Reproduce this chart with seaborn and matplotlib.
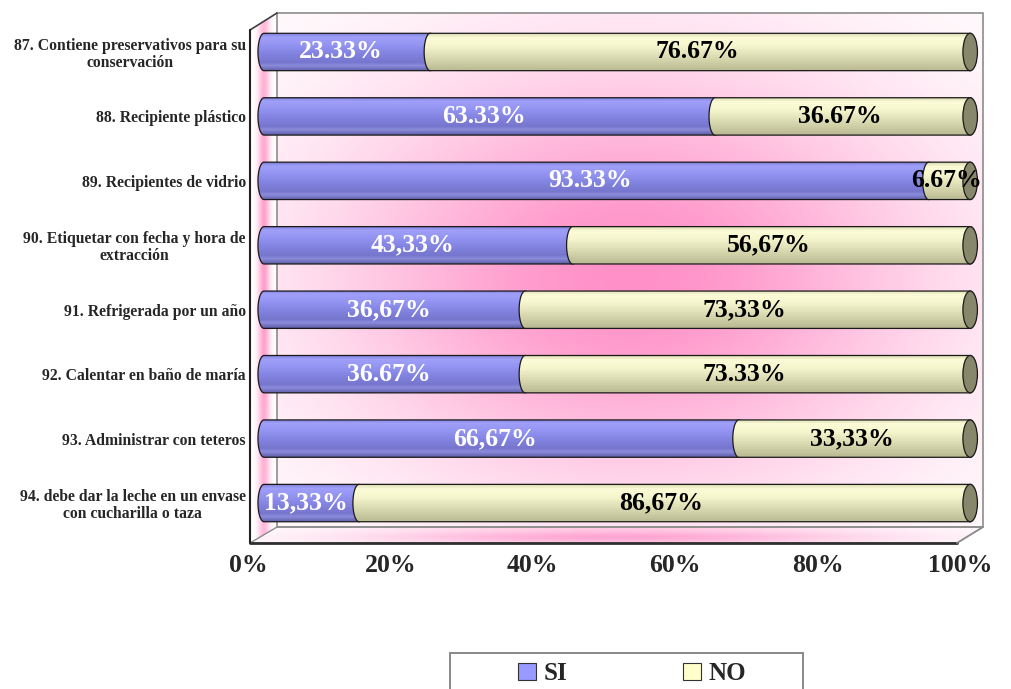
import numpy as np
import pandas as pd
import matplotlib
matplotlib.use("Agg")
import matplotlib.pyplot as plt
import seaborn as sns
from matplotlib import font_manager
from matplotlib import patheffects
from matplotlib.path import Path
from matplotlib.patches import PathPatch, Ellipse, Polygon, Rectangle, Patch
from matplotlib.transforms import ScaledTranslation

# ---- data ----
items = [
    "87. Contiene preservativos para su\nconservación",
    "88. Recipiente plástico",
    "89. Recipientes de vidrio",
    "90. Etiquetar con fecha y hora de\nextracción",
    "91. Refrigerada por un año",
    "92. Calentar en baño de maría",
    "93. Administrar con teteros",
    "94. debe dar la leche en un envase\ncon cucharilla o taza",
]
si_values = [23.33, 63.33, 93.33, 43.33, 36.67, 36.67, 66.67, 13.33]
no_values = [76.67, 36.67, 6.67, 56.67, 63.33, 63.33, 33.33, 86.67]
si_labels = ["23.33%", "63.33%", "93.33%", "43,33%", "36,67%", "36.67%", "66,67%", "13,33%"]
no_labels = ["76.67%", "36.67%", "6.67%", "56,67%", "73,33%", "73.33%", "33,33%", "86,67%"]
x_ticks = [0, 20, 40, 60, 80, 100]
x_ticklabels = ["0%", "20%", "40%", "60%", "80%", "100%"]

df = pd.DataFrame({"item": items, "SI": si_values, "NO": no_values})
df["total"] = df["SI"] + df["NO"]

sns.set_style("white")
plt.rcParams["font.family"] = ["Liberation Serif", "DejaVu Serif"]
plt.rcParams["font.weight"] = "bold"

# use a thin outline to thicken strokes if no bold serif face is available
bold_file = font_manager.findfont(
    font_manager.FontProperties(family="Liberation Serif", weight="bold"))
has_bold = "bold" in bold_file.lower()


def heavy(color, w=1.3):
    if has_bold:
        return []
    return [patheffects.withStroke(linewidth=w, foreground=color)]


W, H = 1011, 689
fig = plt.figure(figsize=(W / 100, H / 100), dpi=100)

# ---- background layer in pixel coordinates: 3D box walls ----
bg = fig.add_axes([0, 0, 1, 1], zorder=0)
bg.set_xlim(0, W)
bg.set_ylim(H, 0)
bg.axis("off")

white = np.array([1.0, 1.0, 1.0])


def blend(t, pink):
    pink = np.array(pink) / 255.0
    return white[None, None, :] * (1 - t[..., None]) + pink[None, None, :] * t[..., None]


# back wall
bx0, bx1, by0, by1 = 277, 983, 13, 527
X, Y = np.meshgrid(np.arange(bx0, bx1 + 1), np.arange(by0, by1 + 1))
t = np.exp(-((X - 630) / 300.0) ** 2 - ((Y - 275) / 210.0) ** 2)
back_img = blend(t, (255, 145, 200))
back_poly = Polygon([(bx0, by0), (bx1, by0), (bx1, by1), (bx0, by1)], closed=True,
                    facecolor="none", edgecolor="#8c8c8c", lw=1.2, zorder=2)
bg.add_patch(back_poly)
im = bg.imshow(back_img, extent=(bx0, bx1, by1, by0), origin="upper", zorder=1,
               interpolation="bilinear")
im.set_clip_path(back_poly)

# left wall
X, Y = np.meshgrid(np.arange(250, 278), np.arange(13, 544))
t = np.exp(-((X - 264) / 6.0) ** 2) * (0.55 + 0.45 * np.exp(-((Y - 275) / 260.0) ** 2))
left_img = blend(t, (255, 160, 205))
left_poly = Polygon([(250, 30), (277, 13), (277, 527), (250, 543)], closed=True,
                    facecolor="none", edgecolor="none", zorder=2)
bg.add_patch(left_poly)
im = bg.imshow(left_img, extent=(250, 277, 543, 13), origin="upper", zorder=1,
               interpolation="bilinear")
im.set_clip_path(left_poly)

# floor
X, Y = np.meshgrid(np.arange(250, 984), np.arange(527, 544))
t = np.exp(-((X - 620) / 260.0) ** 2) * (0.6 + 0.4 * np.exp(-((Y - 537) / 5.0) ** 2))
floor_img = blend(t, (255, 165, 210))
floor_poly = Polygon([(250, 543), (277, 527), (983, 527), (957, 543)], closed=True,
                     facecolor="none", edgecolor="#8c8c8c", lw=1.0, zorder=2)
bg.add_patch(floor_poly)
im = bg.imshow(floor_img, extent=(250, 983, 543, 527), origin="upper", zorder=1,
               interpolation="bilinear")
im.set_clip_path(floor_poly)

# front edges of the box
bg.plot([250, 277], [30, 13], color="#404040", lw=1.2, zorder=3)
bg.plot([250, 250], [30, 543], color="#202020", lw=1.5, zorder=3)
bg.plot([250, 957], [543, 543], color="#303030", lw=2.0, zorder=3)
bg.plot([957, 983], [543, 527], color="#8c8c8c", lw=1.2, zorder=3)
bg.set_aspect("auto")
bg.set_xlim(0, W)
bg.set_ylim(H, 0)

# legend frame
bg.add_patch(Rectangle((450, 653), 353, 60, facecolor="white", edgecolor="#808080",
                       lw=1.3, zorder=3))

# ---- data axes ----
ax_left, ax_right, ax_top, ax_bottom = 250, 983, 13, 543
ax = fig.add_axes([ax_left / W, 1 - ax_bottom / H, (ax_right - ax_left) / W,
                   (ax_bottom - ax_top) / H], zorder=1)
ax.patch.set_alpha(0)

bar_h = 0.58
sns.barplot(data=df, x="total", y="item", orient="h", color="#ffffcc",
            width=bar_h, ax=ax)
sns.barplot(data=df, x="SI", y="item", orient="h", color="#9999ff",
            width=bar_h, ax=ax)

xlim = (-1.12, 101.8)
ylim = (7.62, -0.605)

a = 0.85  # horizontal semi-axis of the cylinder ends (data units)


def stops_to_gradient(stops, n=60):
    pos = np.array([s[0] for s in stops])
    cols = np.array([s[1] for s in stops]) / 255.0
    f = np.linspace(0, 1, n)
    g = np.stack([np.interp(f, pos, cols[:, k]) for k in range(3)], axis=1)
    # fine horizontal banding
    band = 1 + 0.025 * np.sin(np.arange(n) * 2.1)
    g = np.clip(g * band[:, None], 0, 1)
    return g[:, None, :]


si_grad = stops_to_gradient([(0.0, (125, 125, 215)), (0.1, (160, 160, 250)),
                             (0.3, (148, 148, 242)), (0.55, (130, 130, 225)),
                             (0.78, (118, 118, 205)), (0.86, (140, 140, 220)),
                             (1.0, (95, 95, 170))])
no_grad = stops_to_gradient([(0.0, (215, 215, 175)), (0.12, (252, 252, 215)),
                             (0.35, (245, 245, 205)), (0.6, (222, 222, 182)),
                             (0.85, (200, 200, 160)), (1.0, (185, 185, 145))])


def cylinder_path(x0, xc, yc, h):
    """Left end bulges out from x0, right end is an ellipse centred at xc."""
    th_l = np.linspace(np.pi / 2, 3 * np.pi / 2, 40)
    th_r = np.linspace(-np.pi / 2, np.pi / 2, 40)
    left = np.column_stack([x0 + a + a * np.cos(th_l), yc - h / 2 * np.sin(th_l)])
    right = np.column_stack([xc + a * np.cos(th_r), yc - h / 2 * np.sin(th_r)])
    verts = np.vstack([left, right, left[:1]])
    codes = [Path.MOVETO] + [Path.LINETO] * (len(verts) - 2) + [Path.CLOSEPOLY]
    return Path(verts, codes)


def draw_segment(x0, xc, yc, h, grad, z):
    path = cylinder_path(x0, xc, yc, h)
    outline = PathPatch(path, facecolor="none", edgecolor="#1a1a1a", lw=0.9, zorder=z + 0.1)
    ax.add_patch(outline)
    img = ax.imshow(grad, extent=(x0, xc + a, yc + h / 2, yc - h / 2), origin="upper",
                    aspect="auto", zorder=z, interpolation="bilinear")
    img.set_clip_path(outline)


total_bars = ax.containers[0]
si_bars = ax.containers[1]
for i in range(len(items)):
    tr = total_bars[i]
    sr = si_bars[i]
    yc = tr.get_y() + tr.get_height() / 2
    h = tr.get_height()
    si_w = sr.get_width()
    tot_w = tr.get_width()
    tr.set_visible(False)
    sr.set_visible(False)

    draw_segment(0, si_w + a, yc, h, si_grad, 2)
    draw_segment(si_w, tot_w, yc, h, no_grad, 3)
    ax.add_patch(Ellipse((tot_w, yc), 2.4 * a, h, facecolor="#87876b", edgecolor="#1a1a1a",
                         lw=0.9, zorder=3.2))

    ax.text(si_w / 2, yc, si_labels[i], ha="center", va="center", color="white",
            fontsize=18.5, fontweight="bold", zorder=5, path_effects=heavy("white"))
    ax.text((si_w + tot_w) / 2, yc, no_labels[i], ha="center", va="center",
            color="black", fontsize=18.5, fontweight="bold", zorder=5,
            path_effects=heavy("black"))

ax.set_xlim(*xlim)
ax.set_ylim(*ylim)
ax.set_xlabel("")
ax.set_ylabel("")
for s in ax.spines.values():
    s.set_visible(False)

ax.set_xticks(x_ticks)
ax.set_xticklabels(x_ticklabels, fontsize=18.5, fontweight="bold")
ax.tick_params(axis="x", length=0, pad=8)
shift = ScaledTranslation(-10 / 100, 0, fig.dpi_scale_trans)
for lbl in ax.get_xticklabels():
    lbl.set_transform(lbl.get_transform() + shift)
    lbl.set_path_effects(heavy("black"))

ax.tick_params(axis="y", length=0, pad=3)
for lbl in ax.get_yticklabels():
    lbl.set_fontsize(11.3)
    lbl.set_fontweight("bold")
    lbl.set_multialignment("center")
    lbl.set_linespacing(1.05)
    lbl.set_path_effects(heavy("black", 0.8))

# ---- legend ----
handles = [Patch(facecolor="#9999ff", edgecolor="#333333", lw=0.8, label="SI"),
           Patch(facecolor="#ffffcc", edgecolor="#333333", lw=0.8, label="NO")]
leg = fig.legend(handles=handles, loc="center", bbox_to_anchor=(632 / W, 1 - 674 / H),
                 ncol=2, frameon=False, fontsize=18, handlelength=0.72, handleheight=0.68,
                 handletextpad=0.3, columnspacing=4.6)
for txt in leg.get_texts():
    txt.set_fontweight("bold")
    txt.set_path_effects(heavy("black"))

fig.savefig("out.png", dpi=100)
